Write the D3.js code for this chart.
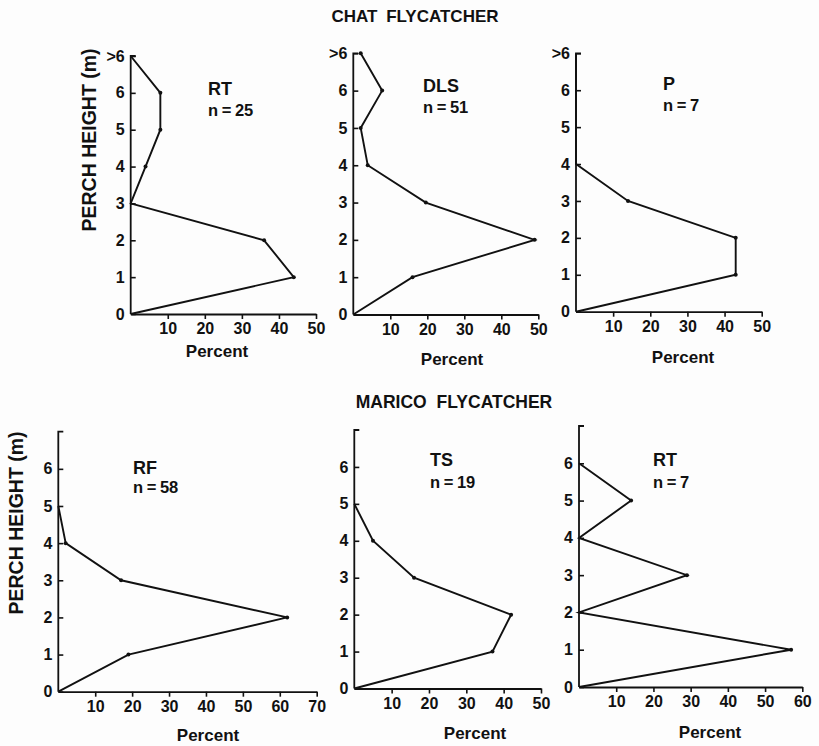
<!DOCTYPE html>
<html>
<head>
<meta charset="utf-8">
<script src="https://cdn.jsdelivr.net/npm/d3@7"></script>
<style>
  body { margin: 0; background: #fdfdfd; }
  svg { font-family: "Liberation Sans", Arial, sans-serif; font-weight: bold; fill: #111; }
</style>
</head>
<body>
<svg id="chart" width="819" height="746"></svg>
<script>
// perch height classes (m); 7 stands for ">6"
var chatHeights = [0, 1, 2, 3, 4, 5, 6, 7];
var chatHeightLabels = ['0', '1', '2', '3', '4', '5', '6', '>6'];
var maricoHeightTicks = [0, 1, 2, 3, 4, 5, 6];

// percent of perches at each height
var chatRT = [0, 44, 36, 0, 4, 8, 8, 0];
var chatDLS = [0, 16, 49, 19.6, 3.9, 2, 7.8, 2];
var chatP = [0, 43, 43, 14, 0, 0, 0, 0];

var maricoRFHeights = [0, 1, 2, 3, 4, 5];
var maricoRF = [0, 19, 62, 17, 2, 0];
var maricoTSHeights = [0, 1, 2, 3, 4, 5];
var maricoTS = [0, 37, 42, 16, 5, 0];
var maricoRTHeights = [0, 1, 2, 3, 4, 5, 6];
var maricoRT = [0, 57, 0, 29, 0, 14, 0];

var titles = ['CHAT FLYCATCHER', 'MARICO FLYCATCHER'];
var panelNames = ['RT', 'DLS', 'P', 'RF', 'TS', 'RT'];
var sampleSizes = [25, 51, 7, 58, 19, 7];

var svg = d3.select('#chart');
var ink = '#111';
var font = '"Liberation Sans", Arial, sans-serif';

//layout of each small panel (pixel positions only)
var panels = [
  { h: chatHeights, v: chatRT, ticks: chatHeights, tickLabels: chatHeightLabels, xMax: 50,
    left: 130.7, right: 316, bottom: 314, top: 56, lx: 208, ly: 95, ny: 116, px: 217, py: 357 },
  { h: chatHeights, v: chatDLS, ticks: chatHeights, tickLabels: chatHeightLabels, xMax: 50,
    left: 353.3, right: 538.3, bottom: 314.5, top: 53.3, lx: 423, ly: 92, ny: 113, px: 452, py: 365 },
  { h: chatHeights, v: chatP, ticks: chatHeights, tickLabels: chatHeightLabels, xMax: 50,
    left: 576, right: 761.7, bottom: 311.7, top: 53.3, lx: 663, ly: 90, ny: 111, px: 683, py: 363 },
  { h: maricoRFHeights, v: maricoRF, ticks: maricoHeightTicks, tickLabels: null, xMax: 70,
    left: 58.3, right: 316.7, bottom: 691.7, top: 431.7, lx: 133, ly: 474, ny: 493, px: 208, py: 741 },
  { h: maricoTSHeights, v: maricoTS, ticks: maricoHeightTicks, tickLabels: null, xMax: 50,
    left: 354.3, right: 541, bottom: 688.5, top: 430, lx: 430, ly: 466, ny: 488, px: 475, py: 739 },
  { h: maricoRTHeights, v: maricoRT, ticks: maricoHeightTicks, tickLabels: null, xMax: 60,
    left: 579, right: 802.3, bottom: 687, top: 426, lx: 653, ly: 466, ny: 488, px: 710, py: 738 }
];

//titles
svg.append('text').attr('x', 415).attr('y', 22).attr('text-anchor', 'middle')
  .style('font-size', '17px').style('word-spacing', '4px').text(titles[0]);
svg.append('text').attr('x', 454).attr('y', 408).attr('text-anchor', 'middle')
  .style('font-size', '17.5px').style('word-spacing', '5px').text(titles[1]);

//y axis titles
[[89, 140], [15.5, 523]].forEach(function (p) {
  svg.append('text')
    .attr('transform', 'translate(' + p[0] + ',' + p[1] + ') rotate(-90)')
    .attr('text-anchor', 'middle').attr('dy', '0.36em')
    .style('font-size', '19.5px')
    .text('PERCH HEIGHT (m)');
});

panels.forEach(function (p, i) {
  var g = svg.append('g');

  var x = d3.scaleLinear().domain([0, p.xMax]).range([p.left, p.right]);
  var y = d3.scaleLinear().domain([0, 7]).range([p.bottom, p.top]);

  // x axis: ticks hang below the line, no 0 label
  var xAxis = d3.axisBottom(x)
    .tickValues(d3.range(10, p.xMax + 1, 10))
    .tickSize(5).tickSizeOuter(0).tickPadding(4)
    .tickFormat(d3.format('d'));
  var xg = g.append('g').attr('transform', 'translate(0,' + p.bottom + ')').call(xAxis);

  // y axis: ticks point inward, labels sit to the left
  var yAxis = d3.axisRight(y)
    .tickValues(p.ticks)
    .tickSize(5).tickSizeOuter(5)
    .tickFormat(function (d, k) { return p.tickLabels ? p.tickLabels[k] : d; });
  var yg = g.append('g').attr('transform', 'translate(' + p.left + ',0)').call(yAxis);

  [xg, yg].forEach(function (a) {
    a.attr('font-size', 16).attr('font-family', font).attr('font-weight', 'bold');
    a.select('.domain').attr('stroke', ink).attr('stroke-width', 1.8);
    a.selectAll('.tick line').attr('stroke', ink).attr('stroke-width', 1.6);
    a.selectAll('.tick text').attr('fill', ink);
  });
  // put y labels on the left of the axis
  yg.selectAll('.tick text').attr('x', -6).attr('text-anchor', 'end');
  yg.select('.domain').attr('d', 'M5,' + p.top + 'H0V' + p.bottom);

  // frequency polygon
  var pts = p.h.map(function (hh, k) { return [p.v[k], hh]; });
  var line = d3.line()
    .x(function (d) { return x(d[0]); })
    .y(function (d) { return y(d[1]); });

  g.append('path').datum(pts)
    .attr('d', line)
    .attr('fill', 'none')
    .attr('stroke', ink)
    .attr('stroke-width', 1.9)
    .attr('stroke-linejoin', 'miter');

  g.selectAll('circle.pt').data(pts.filter(function (d) { return d[0] > 0; }))
    .enter().append('circle')
    .attr('class', 'pt')
    .attr('cx', function (d) { return x(d[0]); })
    .attr('cy', function (d) { return y(d[1]); })
    .attr('r', 2)
    .attr('fill', ink);

  // habitat label + sample size
  g.append('text').attr('x', p.lx).attr('y', p.ly).style('font-size', '18px').text(panelNames[i]);
  g.append('text').attr('x', p.lx).attr('y', p.ny).style('font-size', '16.5px')
    .style('word-spacing', '-1px')
    .text('n = ' + sampleSizes[i]);

  g.append('text').attr('x', p.px).attr('y', p.py).attr('text-anchor', 'middle')
    .style('font-size', '17px').text('Percent');
});
</script>
</body>
</html>
